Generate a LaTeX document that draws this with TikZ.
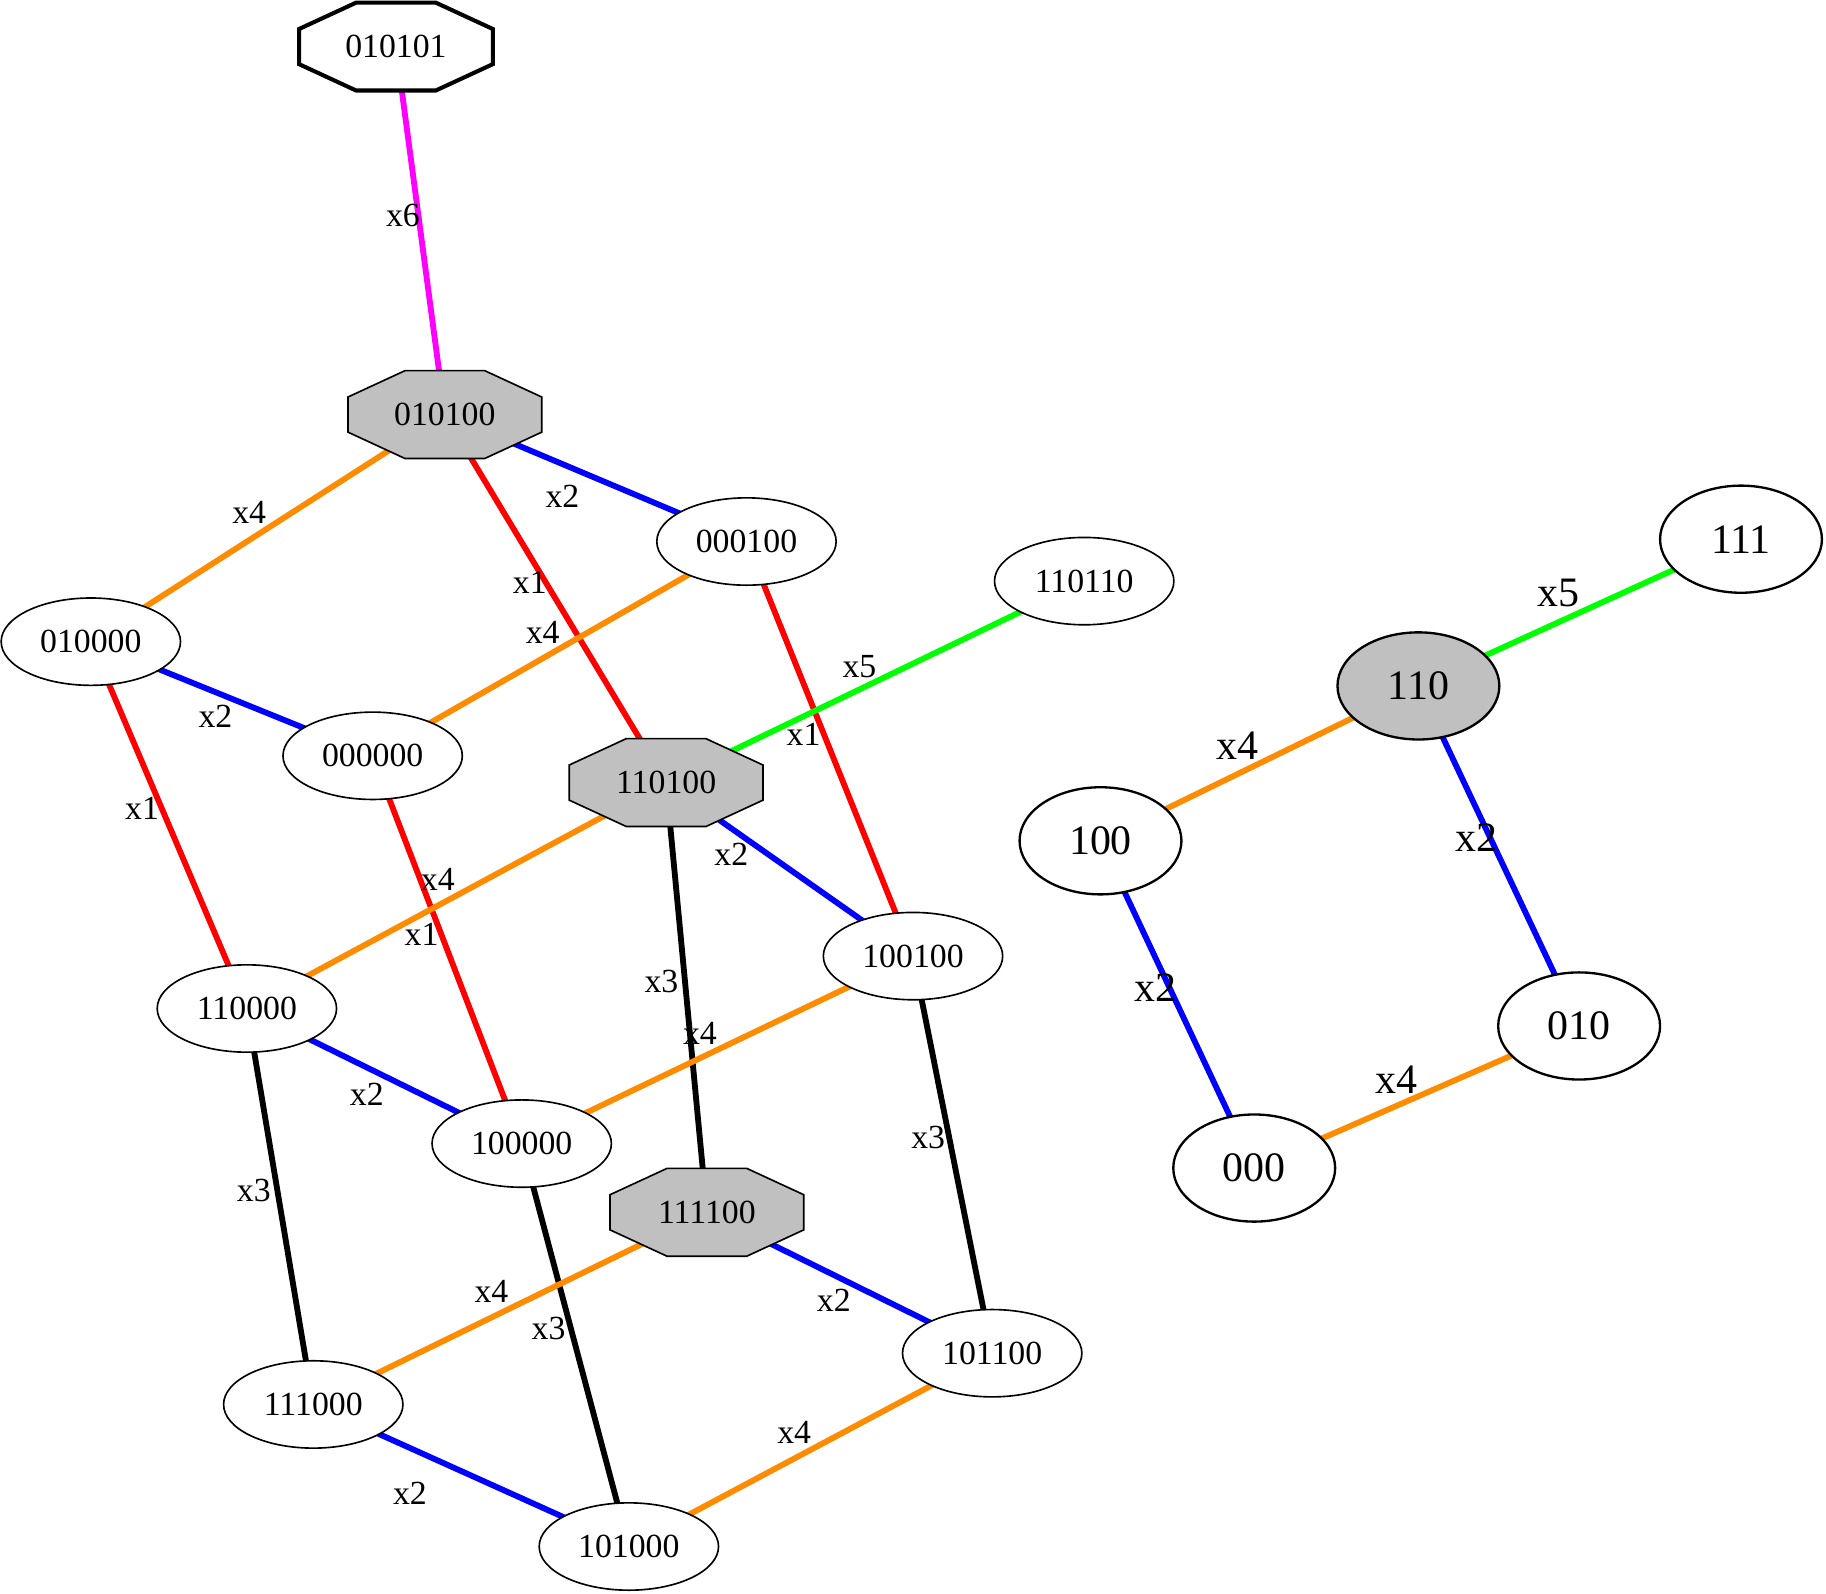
\documentclass[tikz,border=0pt]{standalone}
\usepackage{fontspec}
\setmainfont{Liberation Serif}
\usetikzlibrary{shapes.geometric,calc}
\pgfdeclarelayer{bg}
\pgfsetlayers{bg,main}
\definecolor{dorange}{RGB}{255,140,0}
\definecolor{ggray}{RGB}{192,192,192}
\definecolor{ggreen}{RGB}{0,255,0}
\definecolor{gmag}{RGB}{255,0,255}
\newcommand\octnode[5]{%
 \node[oct] (#1) at (#2) {};
 \draw[fill=#4, line width=#5] ($(#1.north west)!0.294!(#1.north east)$) -- ($(#1.north west)!0.706!(#1.north east)$) -- ($(#1.north east)!0.30!(#1.south east)$) -- ($(#1.north east)!0.70!(#1.south east)$) -- ($(#1.south west)!0.706!(#1.south east)$) -- ($(#1.south west)!0.294!(#1.south east)$) -- ($(#1.north west)!0.70!(#1.south west)$) -- ($(#1.north west)!0.30!(#1.south west)$) -- cycle;
 \node[oct] (#1-t) at (#1) {#3};
}
\begin{document}
\begin{tikzpicture}[x=1pt,y=-1pt,
 ell/.style={ellipse, draw, line width=1.4pt, fill=white, minimum width=154pt, minimum height=75pt, inner sep=0pt, font=\fontsize{29}{29}\selectfont},
 bell/.style={ellipse, draw, line width=2pt, fill=white, minimum width=139pt, minimum height=92pt, inner sep=0pt, font=\fontsize{36}{36}\selectfont},
 oct/.style={draw=none, minimum width=166pt, minimum height=75pt, inner sep=0pt, font=\fontsize{29}{29}\selectfont},
 edge/.style={line width=5pt},
 lab/.style={font=\fontsize{29}{29}\selectfont, inner sep=0pt},
 blab/.style={font=\fontsize{36}{36}\selectfont, inner sep=0pt},
]
\useasboundingbox (0,0) rectangle (1568,1368);

% left graph nodes
\octnode{n010101}{340,40}{010101}{white}{3.5pt}
\octnode{n010100}{382,356}{010100}{ggray}{1.4pt}
\octnode{n110100}{572,672}{110100}{ggray}{1.4pt}
\octnode{n111100}{607,1041}{111100}{ggray}{1.4pt}
\node[ell] (n000100) at (641,465) {000100};
\node[ell] (n110110) at (931,499) {110110};
\node[ell] (n010000) at (78,551) {010000};
\node[ell] (n000000) at (320,649) {000000};
\node[ell] (n100100) at (784,821) {100100};
\node[ell] (n110000) at (212,866) {110000};
\node[ell] (n100000) at (448,982) {100000};
\node[ell] (n101100) at (852,1162) {101100};
\node[ell] (n111000) at (269,1206) {111000};
\node[ell] (n101000) at (540,1328) {101000};

% right graph nodes
\node[bell] (r111) at (1495,463) {111};
\node[bell, fill=ggray] (r110) at (1218,589) {110};
\node[bell] (r100) at (945,722) {100};
\node[bell] (r010) at (1356,881) {010};
\node[bell] (r000) at (1077,1003) {000};

\begin{pgfonlayer}{bg}
\draw[edge, gmag] (n010101.center) -- (n010100.center);
\draw[edge, blue] (n010100.center) -- (n000100.center);
\draw[edge, dorange] (n010100.center) -- (n010000.center);
\draw[edge, red] (n010100.center) -- (n110100.center);
\draw[edge, dorange] (n000100.center) -- (n000000.center);
\draw[edge, red] (n000100.center) -- (n100100.center);
\draw[edge, ggreen] (n110110.center) -- (n110100.center);
\draw[edge, blue] (n010000.center) -- (n000000.center);
\draw[edge, red] (n010000.center) -- (n110000.center);
\draw[edge, red] (n000000.center) -- (n100000.center);
\draw[edge, dorange] (n110100.center) -- (n110000.center);
\draw[edge, blue] (n110100.center) -- (n100100.center);
\draw[edge, black] (n110100.center) -- (n111100.center);
\draw[edge, dorange] (n100100.center) -- (n100000.center);
\draw[edge, black] (n100100.center) -- (n101100.center);
\draw[edge, blue] (n110000.center) -- (n100000.center);
\draw[edge, black] (n110000.center) -- (n111000.center);
\draw[edge, black] (n100000.center) -- (n101000.center);
\draw[edge, dorange] (n111100.center) -- (n111000.center);
\draw[edge, blue] (n111100.center) -- (n101100.center);
\draw[edge, dorange] (n101100.center) -- (n101000.center);
\draw[edge, blue] (n111000.center) -- (n101000.center);
\draw[edge, ggreen] (r111.center) -- (r110.center);
\draw[edge, dorange] (r110.center) -- (r100.center);
\draw[edge, blue] (r110.center) -- (r010.center);
\draw[edge, blue] (r100.center) -- (r000.center);
\draw[edge, dorange] (r010.center) -- (r000.center);
\end{pgfonlayer}

% edge labels
\node[lab] (l1) at (346,185) {x6};
\node[lab] (l2) at (483,426) {x2};
\node[lab] (l3) at (214,440) {x4};
\node[lab] (l4) at (455,500) {x1};
\node[lab] (l5) at (466,543) {x4};
\node[lab] (l6) at (690,631) {x1};
\node[lab] (l7) at (738,572) {x5};
\node[lab] (l8) at (185,615) {x2};
\node[lab] (l9) at (122,694) {x1};
\node[lab] (l10) at (376,755) {x4};
\node[lab] (l11) at (362,802) {x1};
\node[lab] (l12) at (628,734) {x2};
\node[lab] (l13) at (568,843) {x3};
\node[lab] (l14) at (601,887) {x4};
\node[lab] (l15) at (797,977) {x3};
\node[lab] (l16) at (315,940) {x2};
\node[lab] (l17) at (218,1022) {x3};
\node[lab] (l18) at (471,1141) {x3};
\node[lab] (l19) at (422,1109) {x4};
\node[lab] (l20) at (716,1117) {x2};
\node[lab] (l21) at (682,1230) {x4};
\node[lab] (l22) at (352,1282) {x2};
\node[blab] (l23) at (1338,509) {x5};
\node[blab] (l24) at (1063,640) {x4};
\node[blab] (l25) at (1268,719) {x2};
\node[blab] (l26) at (992,848) {x2};
\node[blab] (l27) at (1199,927) {x4};
\end{tikzpicture}
\end{document}
